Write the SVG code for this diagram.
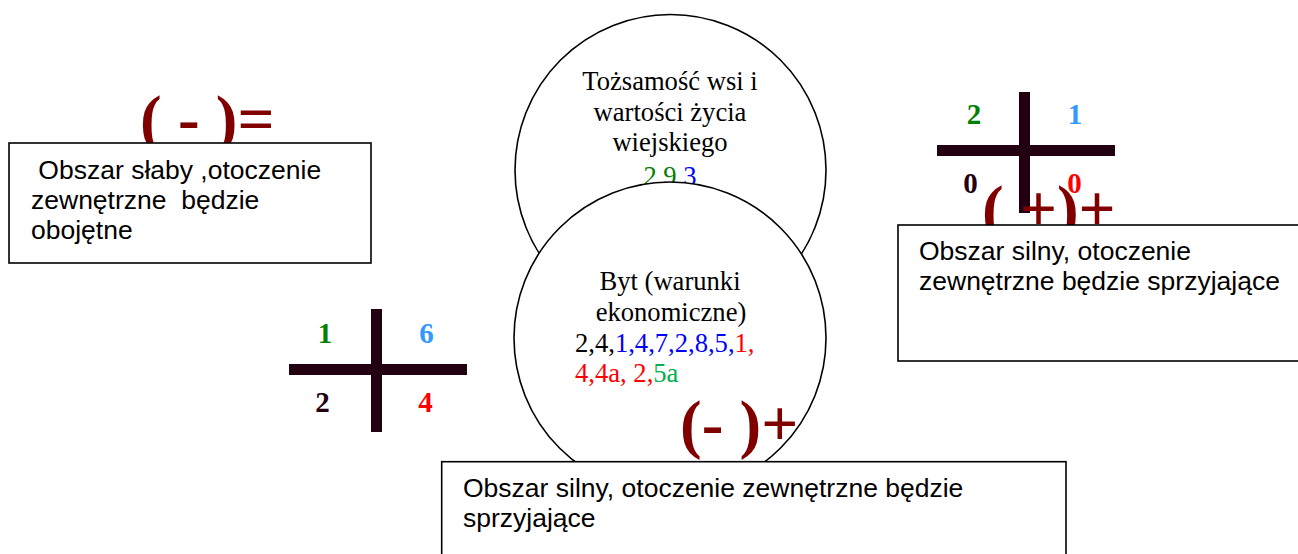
<svg xmlns="http://www.w3.org/2000/svg" width="1298" height="554" viewBox="0 0 1298 554">
<style>
.circ{fill:#fff;stroke:#000;stroke-width:1.6}
.box{fill:#fff;stroke:#000;stroke-width:1.6}
.tm{font-family:"Liberation Serif","Times New Roman",serif;font-size:26.6px;fill:#000}
.ar{font-family:"Liberation Sans",Arial,sans-serif;font-size:26.5px;fill:#000}
.big{font-family:"Liberation Serif","Times New Roman",serif;font-size:65px;font-weight:bold;fill:#800000;white-space:pre}
.dig{font-family:"Liberation Serif","Times New Roman",serif;font-size:29px;font-weight:bold;text-anchor:middle}
.bar{fill:#220011}
.g{fill:#008000}.b{fill:#0000ff}.r{fill:#ff0000}.g2{fill:#00b050}.lb{fill:#3399ff}.dk{fill:#220011}
</style>
<rect width="1298" height="554" fill="#fff"/>
<g id="connectors"/>
<g id="circle-identity">
<circle class="circ" cx="670.5" cy="170" r="155.5"/>
<text class="tm" text-anchor="middle" x="670" y="90">Tożsamość wsi i</text>
<text class="tm" text-anchor="middle" x="670" y="120.5">wartości życia</text>
<text class="tm" text-anchor="middle" x="670" y="151">wiejskiego</text>
<text class="tm" text-anchor="middle" x="670" y="185"><tspan class="g">2,9,</tspan><tspan class="b">3</tspan></text>
</g>
<g id="circle-byt">
<circle class="circ" cx="670" cy="338" r="156"/>
<text class="tm" text-anchor="middle" x="670" y="290">Byt (warunki</text>
<text class="tm" text-anchor="middle" x="671" y="320.5">ekonomiczne)</text>
<text class="tm" x="575" y="351.5">2,4,<tspan class="b">1,4,7,2,8,5,</tspan><tspan class="r">1,</tspan></text>
<text class="tm" x="575" y="382"><tspan class="r">4,4a, 2,</tspan><tspan class="g2">5a</tspan></text>
</g>
<g id="cross-right">
<rect class="bar" x="1019" y="92" width="11" height="121"/>
<rect class="bar" x="937" y="145" width="178" height="11"/>
<text class="dig g" x="974" y="124">2</text>
<text class="dig lb" x="1075" y="124">1</text>
<text class="dig dk" x="970.5" y="193">0</text>
<text class="dig r" x="1074.5" y="193">0</text>
</g>
<g id="cross-left">
<rect class="bar" x="371" y="309" width="11" height="123"/>
<rect class="bar" x="289" y="364" width="178" height="11"/>
<text class="dig g" x="325" y="343">1</text>
<text class="dig lb" x="426.5" y="343">6</text>
<text class="dig dk" x="322.5" y="412">2</text>
<text class="dig r" x="425.5" y="412">4</text>
</g>
<g id="sym-left"><text class="big" x="140" y="141">( - )=</text></g>
<g id="sym-right"><text class="big" x="982" y="231">( +)+</text></g>
<g id="sym-bottom"><text class="big" x="680" y="446">(- )+</text></g>
<g id="box-left">
<rect class="box" x="9" y="143" width="362" height="120"/>
<text class="ar" x="31" y="179" style="white-space:pre"> Obszar słaby ,otoczenie</text>
<text class="ar" x="31" y="209" style="white-space:pre">zewnętrzne  będzie</text>
<text class="ar" x="31" y="239">obojętne</text>
</g>
<g id="box-right">
<rect class="box" x="898" y="225" width="420" height="136"/>
<text class="ar" x="919" y="260">Obszar silny, otoczenie</text>
<text class="ar" x="919" y="290">zewnętrzne będzie sprzyjające</text>
</g>
<g id="box-bottom">
<rect class="box" x="441.7" y="461.7" width="624.3" height="120"/>
<text class="ar" x="463" y="497">Obszar silny, otoczenie zewnętrzne będzie</text>
<text class="ar" x="463" y="527">sprzyjające</text>
</g>
</svg>
